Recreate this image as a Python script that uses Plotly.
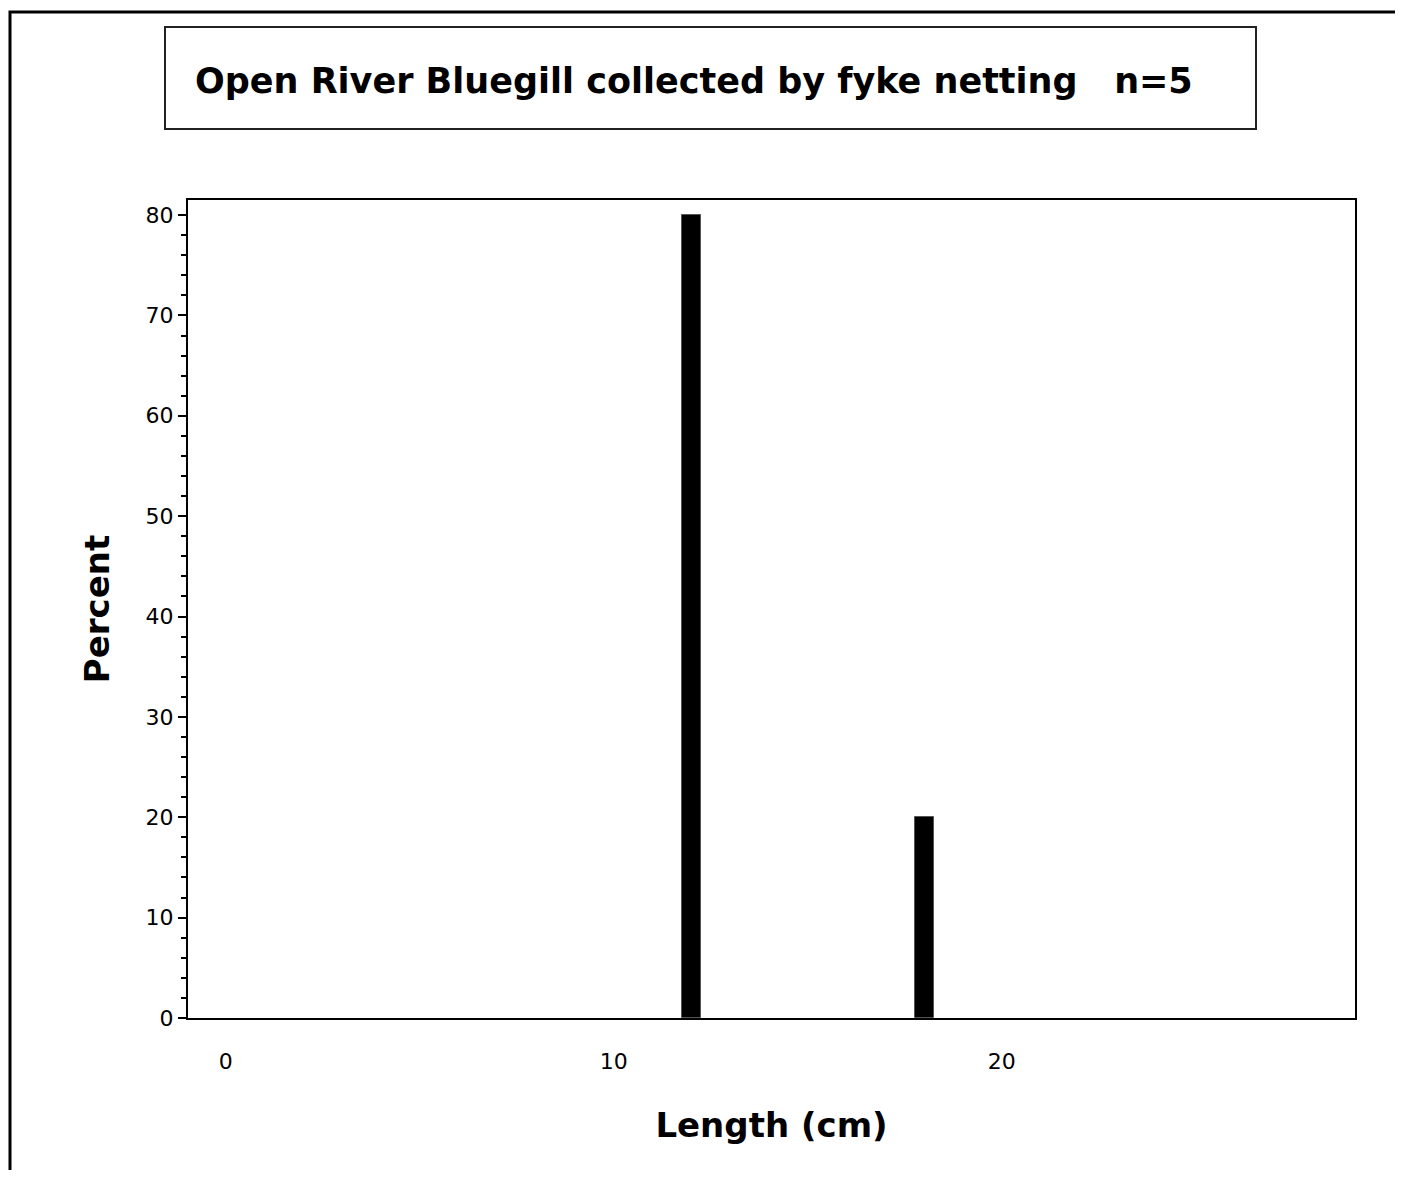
import plotly.graph_objects as go

# Data
lengths_cm = [12, 18]
percent = [80, 20]
x_tick_vals = [0, 10, 20]
x_tick_text = ["0", "10", "20"]
y_tick_vals = [0, 10, 20, 30, 40, 50, 60, 70, 80]
title_text = "Open River Bluegill collected by fyke netting\u00a0\u00a0\u00a0n=5"

# the page has an 8px body margin; compensate so the chart lands where the reference has it
OFF = 8
W, H = 1403 - 2 * OFF, 1178 - 2 * OFF
L, R, T, B = 188 - OFF, 1355 - OFF, 200 - OFF, 1018 - OFF

def px_x(px):
    return (px - OFF - L) / (R - L)

def px_y(py):
    return (B - (py - OFF)) / (B - T)

font_family = "DejaVu Sans, Liberation Sans, Arial, sans-serif"

fig = go.Figure()
fig.add_trace(go.Bar(
    x=lengths_cm, y=percent, width=0.5,
    marker=dict(color="black", line=dict(color="#555555", width=1)),
    showlegend=False,
))

fig.update_layout(
    width=W, height=H,
    margin=dict(l=L, r=W - R, t=T, b=H - B, pad=0),
    paper_bgcolor="white",
    plot_bgcolor="white",
    font=dict(family=font_family, color="black"),
    bargap=0,
    shapes=[
        # white panel border
        dict(type="rect", xref="paper", yref="paper", layer="below",
             x0=px_x(10), x1=px_x(1430), y0=px_y(1200), y1=px_y(12),
             fillcolor="white", line=dict(color="black", width=3)),
        # title box
        dict(type="rect", xref="paper", yref="paper",
             x0=px_x(165), x1=px_x(1256), y0=px_y(129), y1=px_y(27),
             fillcolor="rgba(0,0,0,0)", line=dict(color="#222222", width=2)),
    ],
    annotations=[
        dict(text="<b>" + title_text + "</b>", xref="paper", yref="paper",
             x=px_x(193), y=px_y(81), xanchor="left", yanchor="middle",
             showarrow=False, font=dict(size=35, family=font_family, color="black")),
    ],
)

fig.update_xaxes(
    range=[-0.97, 29.1],
    tickmode="array", tickvals=x_tick_vals, ticktext=x_tick_text,
    ticks="", ticklabelstandoff=23,
    tickfont=dict(size=22),
    showgrid=False, zeroline=False,
    showline=True, linecolor="black", linewidth=2, mirror=True,
    title=dict(text="<b>Length (cm)</b>", font=dict(size=34), standoff=40),
)
fig.update_yaxes(
    range=[0, 81.5],
    tickmode="array", tickvals=y_tick_vals,
    ticks="outside", ticklen=8, tickwidth=2, tickcolor="black",
    minor=dict(tickmode="linear", tick0=0, dtick=2, ticks="outside", ticklen=5, tickwidth=2, tickcolor="black"),
    tickfont=dict(size=22),
    showgrid=False, zeroline=False,
    showline=True, linecolor="black", linewidth=2, mirror=True,
    title=dict(text="<b>Percent</b>", font=dict(size=34), standoff=26),
)

fig.write_html("out.html")
